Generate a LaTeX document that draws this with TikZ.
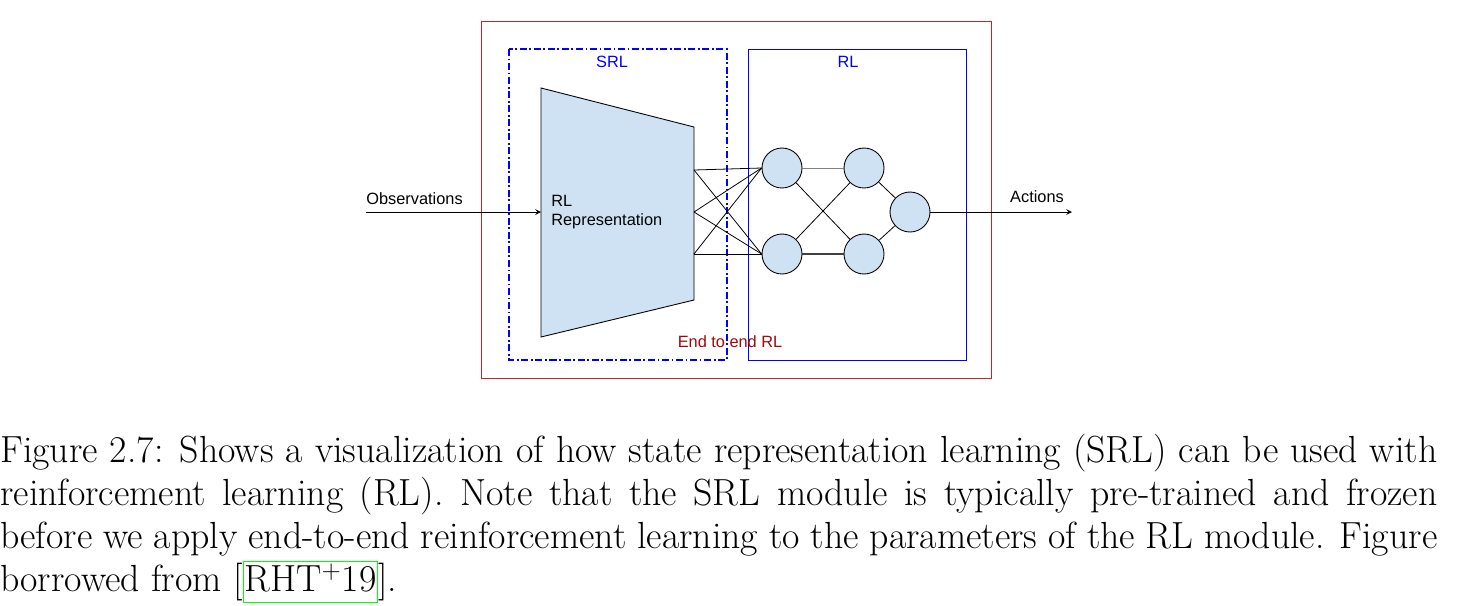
\documentclass[tikz,border=0pt]{standalone}
\usepackage{fontspec}
\newfontfamily\labelfont{Liberation Sans}
\usepackage{xcolor}
\usepackage{tikz}
\usetikzlibrary{calc,arrows}

\definecolor{boxred}{RGB}{190,40,40}
\definecolor{endred}{RGB}{160,10,10}
\definecolor{cellblue}{RGB}{207,226,243}
\newcommand\citebox[1]{{\setlength\fboxsep{0.5pt}\setlength\fboxrule{0.6pt}\fcolorbox{green}{white}{\vphantom{[}#1}}}

\begin{document}
\begin{tikzpicture}[x=0.2mm,y=-0.2mm,>=stealth,
	lbl/.style={font=\labelfont\fontsize{9.3}{11}\selectfont,inner sep=0pt},
	unit/.style={circle,draw,fill=cellblue,minimum size=8mm,inner sep=0pt,line width=0.5pt},
	wire/.style={line width=0.45pt}]
			\useasboundingbox (0,0) rectangle (1457,605);
			
			\draw[boxred,line width=0.5pt] (481,21) rectangle (991,378);
			\draw[blue,line width=0.9pt,dash pattern=on 4pt off 1.5pt on 1pt off 1.5pt] (509,49) rectangle (727,360);
			\draw[blue,line width=0.5pt] (748,49) rectangle (966,360);
			\node[lbl,text=blue] (srl) at (612,62) {SRL};
			\node[lbl,text=blue] (rl) at (848,62) {RL};
			\node[lbl,text=endred] (e2e) at (730,342) {End to end RL};
			
			\draw[fill=cellblue,line width=0.5pt] (541,88)--(694,127)--(694,300)--(541,337)--cycle;
			\node[lbl,align=left,anchor=west] (repr) at (551,212) {RL\\Representation};
			
			\coordinate (obs) at (366,212);
			\coordinate (enc) at (541,212);
			\coordinate (t1) at (694,170);
			\coordinate (t2) at (694,212);
			\coordinate (t3) at (694,254);
			\coordinate (act) at (1072,212);
			
			\node[unit] (n11) at (782,168) {};
			\node[unit] (n12) at (782,254) {};
			\node[unit] (n21) at (864,168) {};
			\node[unit] (n22) at (864,254) {};
			\node[unit] (out) at (910,212) {};
			
			\draw[->,wire] (obs)--(enc) node[lbl,pos=0,anchor=south west,yshift=4pt]{Observations};
			\draw[->,wire] (out)--(act) node[lbl,above=5pt,xshift=-7mm]{Actions};
			
			\foreach \t in {t1,t2,t3}
			\foreach \n in {n11,n12}
			\draw[wire] (\t)--(\n.west);
			\draw[wire,gray] (n11)--(n21);
			\draw[wire,line width=0.8pt,darkgray] (n12)--(n22);
			\draw[wire] (n11)--(n22);
			\draw[wire] (n12)--(n21);
			\draw[wire] (n21)--(out);
			\draw[wire] (n22)--(out);
			
			\node[anchor=north west,text width=1437*0.2mm,align=justify,inner sep=0pt,
			font=\fontsize{21.5}{24.4}\selectfont] (cap) at (0,434)
			{Figure 2.7: Shows a visualization of how state representation learning (SRL) can be used with\linebreak
			reinforcement learning (RL). Note that the SRL module is typically pre-trained and frozen\linebreak
			before we apply end-to-end reinforcement learning to the parameters of the RL module. Figure\linebreak
			borrowed from [\citebox{RHT$^+$19}].};
		\end{tikzpicture}
\end{document}
